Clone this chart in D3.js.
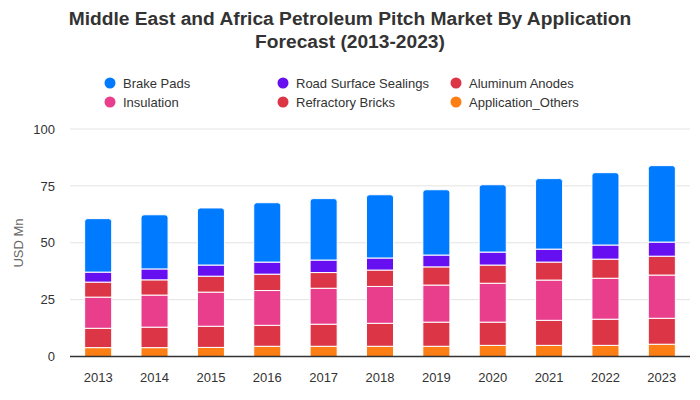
<!DOCTYPE html>
<html><head><meta charset="utf-8">
<script src="https://cdn.jsdelivr.net/npm/d3@7"></script>
<style>body{margin:0;background:#fff}svg{display:block}</style>
</head><body>
<svg id="c" width="700" height="400"></svg>
<script>
const years = ["2013","2014","2015","2016","2017","2018","2019","2020","2021","2022","2023"];
const applicationOthers = [3.9,3.9,4.0,4.5,4.5,4.5,4.5,4.9,4.9,4.9,5.4];
const refractoryBricks = [8.5,9.0,9.3,9.2,9.7,10.1,10.6,10.2,11.0,11.5,11.4];
const insulation = [13.7,14.1,15.0,15.3,15.8,16.2,16.3,17.1,17.7,18.0,19.0];
const aluminumAnodes = [6.6,6.7,7.0,7.2,6.9,7.2,8.0,8.0,7.9,8.4,8.3];
const roadSurfaceSealings = [4.4,4.8,4.9,5.3,5.5,5.3,5.2,5.7,5.7,6.2,6.2];
const brakePads = [23.5,23.8,25.1,26.1,27.0,27.8,28.7,29.6,31.0,31.8,33.6];
const yTicks = [0,25,50,75,100];

const seriesNames = ["Application_Others","Refractory Bricks","Insulation","Aluminum Anodes","Road Surface Sealings","Brake Pads"];
const seriesValues = [applicationOthers,refractoryBricks,insulation,aluminumAnodes,roadSurfaceSealings,brakePads];
const colors = {"Brake Pads":"#007bff","Road Surface Sealings":"#6610f2","Aluminum Anodes":"#dc3545",
  "Insulation":"#e83e8c","Refractory Bricks":"#dc3545","Application_Others":"#fd7e14"};

const svg = d3.select("#c");
const font = "'Liberation Sans', Arial, sans-serif";

// title
[["Middle East and Africa Petroleum Pitch Market By Application",24.5],["Forecast (2013-2023)",47.5]].forEach(([t,yy])=>{
  svg.append("text").attr("x",350).attr("y",yy).attr("text-anchor","middle")
    .attr("font-family",font).attr("font-weight","bold")
    .attr("font-size",19.2).attr("fill","#333").text(t);
});

// legend
const legendItems = [
  {name:"Brake Pads",x:110,y:83},{name:"Road Surface Sealings",x:283,y:83},{name:"Aluminum Anodes",x:456,y:83},
  {name:"Insulation",x:110,y:102},{name:"Refractory Bricks",x:283,y:102},{name:"Application_Others",x:456,y:102}];
const lg = svg.append("g");
legendItems.forEach(d=>{
  lg.append("circle").attr("cx",d.x).attr("cy",d.y).attr("r",5.5).attr("fill",colors[d.name]);
  lg.append("text").attr("x",d.x+13).attr("y",d.y+4.5).attr("font-family",font).attr("font-size",13)
    .attr("fill","#333").text(d.name);
});

const x = d3.scaleBand().domain(years).range([70,690]).paddingInner(0.52).paddingOuter(0.26);
const y = d3.scaleLinear().domain([0,100]).range([356.5,129]);

// grid
svg.append("g").selectAll("line").data(yTicks.filter(t=>t>0)).join("line")
  .attr("x1",70).attr("x2",690).attr("y1",d=>y(d)).attr("y2",d=>y(d))
  .attr("stroke","#e3e3e3").attr("stroke-width",1);

// y axis labels
const yAxis = svg.append("g").attr("transform","translate(55,0)")
  .call(d3.axisLeft(y).tickValues(yTicks).tickSize(0).tickPadding(0));
yAxis.select(".domain").remove();
yAxis.selectAll("text").attr("font-family",font).attr("font-size",13).attr("fill","#333");

svg.append("text").attr("transform","translate(23,243) rotate(-90)").attr("text-anchor","middle")
  .attr("font-family",font).attr("font-size",13).attr("fill","#666").text("USD Mn");

// stacked data
const table = years.map((yr,i)=>{ const o={year:yr}; seriesNames.forEach((s,j)=>o[s]=seriesValues[j][i]); return o; });
const stack = d3.stack().keys(seriesNames)(table);

const bw = x.bandwidth();
stack.forEach((layer,li)=>{
  const g = svg.append("g").attr("fill",colors[layer.key]);
  layer.forEach(d=>{
    const x0 = x(d.data.year), y0 = y(d[0]), y1 = y(d[1]);
    if (li === stack.length-1) {
      const r = 3;
      const p = d3.path();
      p.moveTo(x0, y0); p.lineTo(x0, y1+r); p.quadraticCurveTo(x0, y1, x0+r, y1);
      p.lineTo(x0+bw-r, y1); p.quadraticCurveTo(x0+bw, y1, x0+bw, y1+r); p.lineTo(x0+bw, y0); p.closePath();
      g.append("path").attr("d",p.toString()).attr("stroke","#fff").attr("stroke-width",1);
    } else {
      g.append("rect").attr("x",x0).attr("y",y1).attr("width",bw).attr("height",y0-y1)
        .attr("stroke","#fff").attr("stroke-width",1);
    }
  });
});

// baseline
svg.append("line").attr("x1",70).attr("x2",690).attr("y1",y(0)).attr("y2",y(0))
  .attr("stroke","#333").attr("stroke-width",1.5);

// x axis labels
const xAxis = svg.append("g").attr("transform",`translate(0,${y(0)+16})`)
  .call(d3.axisBottom(x).tickSize(0).tickPadding(0));
xAxis.select(".domain").remove();
xAxis.selectAll("text").attr("font-family",font).attr("font-size",13).attr("fill","#333");
</script>
</body></html>
